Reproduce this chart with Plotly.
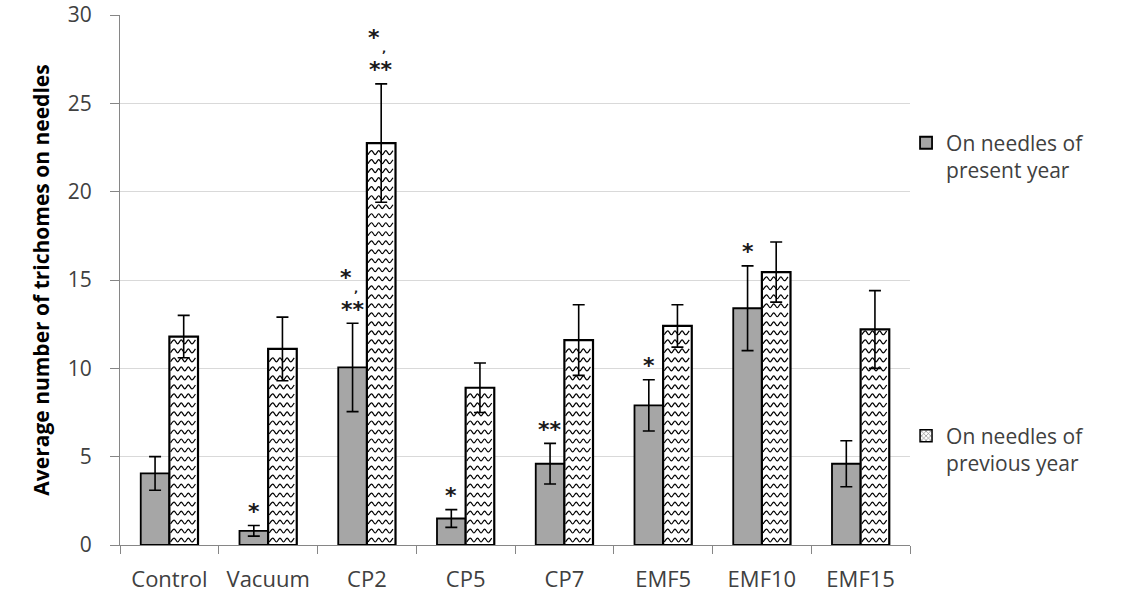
import numpy as np
import plotly.graph_objects as go

# Treatments and measured means / standard errors
categories = ["Control", "Vacuum", "CP2", "CP5", "CP7", "EMF5", "EMF10", "EMF15"]
present_year = [4.05, 0.8, 10.05, 1.5, 4.6, 7.9, 13.4, 4.6]
present_err = [0.95, 0.3, 2.5, 0.5, 1.15, 1.45, 2.4, 1.3]
previous_year = [11.8, 11.1, 22.75, 8.9, 11.6, 12.4, 15.45, 12.2]
previous_err = [1.2, 1.8, 3.35, 1.4, 2.0, 1.2, 1.7, 2.2]

# Significance marks per bar ("a,b" = two marks stacked, separated by a comma)
present_marks = ["", "*", "*,**", "*", "**", "*", "*", ""]
previous_marks = ["", "", "*,**", "", "", "", "", ""]

FONT = "Open Sans"
GRAY = "#a6a6a6"
BAR_W = 0.29

idx = np.arange(len(categories))
x_present = idx - BAR_W / 2
x_previous = idx + BAR_W / 2

fig = go.Figure()

# Present-year bars (solid gray)
fig.add_trace(go.Bar(
    x=idx, y=present_year, offset=-BAR_W, width=BAR_W,
    marker=dict(color=GRAY, line=dict(color="black", width=1.8)),
    name="On needles of<br>present year", legend="legend",
    showlegend=True,
))

# Previous-year bars (white, wave texture drawn on top)
fig.add_trace(go.Bar(
    x=idx, y=previous_year, offset=0, width=BAR_W,
    marker=dict(color="white", line=dict(color="black", width=2.2)),
    showlegend=False,
))

# Legend swatch for the textured series
fig.add_trace(go.Bar(
    x=[None], y=[None],
    marker=dict(color="white", line=dict(color="black", width=1.5),
                pattern=dict(shape="x", fgcolor="black", bgcolor="white",
                             size=4, solidity=0.35)),
    name="On needles of<br>previous year", legend="legend2",
))

# Wavy texture inside each previous-year bar
row_step = 0.51
half_period = 0.036
amp = 0.11
wx, wy = [], []
for i, h in zip(idx, previous_year):
    x0, x1 = i + 0.012, i + BAR_W - 0.012
    xs = np.arange(x0, x1 + 1e-9, half_period)
    y = 0.28
    while y < h - 0.18:
        ys = [y + (amp if k % 2 else -amp) for k in range(len(xs))]
        wx.extend(list(xs) + [None])
        wy.extend(ys + [None])
        y += row_step
fig.add_trace(go.Scatter(
    x=wx, y=wy, mode="lines",
    line=dict(color="black", width=1.2, shape="spline", smoothing=1),
    hoverinfo="skip", showlegend=False,
))

# Error bars drawn above the bars and texture
for xs, ys, es in [(x_present, present_year, present_err),
                   (x_previous, previous_year, previous_err)]:
    fig.add_trace(go.Scatter(
        x=xs, y=ys, mode="markers",
        marker=dict(size=1, color="rgba(0,0,0,0)"),
        error_y=dict(type="data", array=es, visible=True,
                     color="black", thickness=1.6, width=6),
        showlegend=False, hoverinfo="skip",
    ))

STAR_FONT = dict(family="DejaVu Sans", size=22, color="#1a1a1a")


# Significance asterisks above the error bars
def add_marks(xs, ys, es, marks):
    for x, y, e, m in zip(xs, ys, es, marks):
        if not m:
            continue
        top = y + e
        parts = m.split(",")
        fig.add_annotation(x=x, y=top, text="<b>" + parts[-1] + "</b>",
                           showarrow=False, yanchor="middle", yshift=14,
                           font=STAR_FONT)
        if len(parts) == 2:
            fig.add_annotation(x=x, y=top, text="<b>,</b>",
                               showarrow=False, yanchor="middle", yshift=35, xshift=3,
                               font=dict(family="DejaVu Sans", size=11, color="#1a1a1a"))
            fig.add_annotation(x=x, y=top, text="<b>" + parts[0] + "</b>",
                               showarrow=False, yanchor="middle", yshift=46, xshift=-7,
                               font=STAR_FONT)


add_marks(x_present, present_year, present_err, present_marks)
add_marks(x_previous, previous_year, previous_err, previous_marks)

legend_style = dict(
    x=0.995, xanchor="left", yanchor="top", valign="top",
    bgcolor="rgba(0,0,0,0)", borderwidth=0,
    font=dict(family=FONT, size=21, color="#404040"),
)

fig.update_layout(
    width=1132, height=594,
    margin=dict(l=120, r=222, t=15, b=49),
    plot_bgcolor="white", paper_bgcolor="white",
    barmode="overlay",
    font=dict(family=FONT, size=20, color="#404040"),
    legend=dict(y=0.797, **legend_style),
    legend2=dict(y=0.244, **legend_style),
    xaxis=dict(
        range=[-0.5, 7.5], tickvals=list(idx), ticktext=categories,
        ticks="", showgrid=False, zeroline=False, automargin=False,
        showline=True, linecolor="#868686", linewidth=1.3,
        ticklabelstandoff=14,
        tickfont=dict(family=FONT, size=22, color="#404040"),
        minor=dict(tickvals=list(np.arange(-0.5, 8, 1.0)), ticks="outside",
                   ticklen=8, tickcolor="#868686", tickwidth=1.3, showgrid=False),
    ),
    yaxis=dict(
        range=[0, 30], dtick=5, showgrid=True, gridcolor="#d9d9d9", gridwidth=1.3,
        zeroline=False, showline=True, linecolor="#868686", linewidth=1.3,
        ticks="outside", ticklen=9, tickcolor="#868686", tickwidth=1.3,
        ticklabelstandoff=14, automargin=False,
        tickfont=dict(family=FONT, size=21, color="#404040"),
        title=dict(text="<b>Average number of trichomes on needles</b>",
                   font=dict(family=FONT, size=21, color="black"), standoff=12),
    ),
)

fig.write_html("out.html")
